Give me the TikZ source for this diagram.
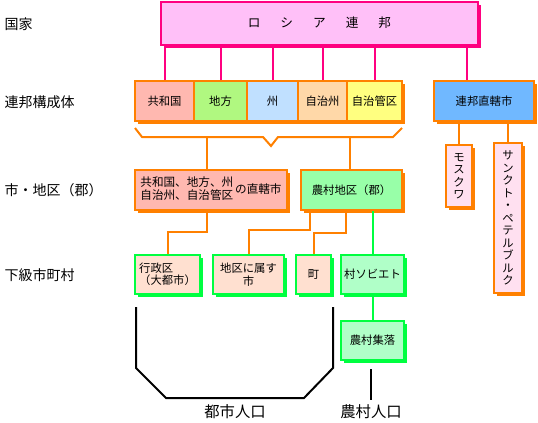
\documentclass[tikz,border=0pt]{standalone}
\usepackage{fontspec}
\setmainfont{Noto Sans CJK JP}
\usetikzlibrary{shadows}

\begin{document}
\begin{tikzpicture}[x=0.75pt, y=-0.75pt]
    % Define colours
    \definecolor{pinkLine}{HTML}{FF0080}
    \definecolor{orangeLine}{HTML}{FF8000}
    \definecolor{greenLine}{HTML}{00FF40}
    \definecolor{rfFill}{HTML}{FFC0F8}
    \definecolor{kyowaFill}{HTML}{FFB8B0}
    \definecolor{chihoFill}{HTML}{B0F880}
    \definecolor{shuFill}{HTML}{C0E0FF}
    \definecolor{jichishuFill}{HTML}{FFD8A8}
    \definecolor{jichikuFill}{HTML}{FFFF80}
    \definecolor{fedFill}{HTML}{70B8FF}
    \definecolor{cityFill}{HTML}{FFE0F0}
    \definecolor{nosonFill}{HTML}{98FFA8}
    \definecolor{lowFill}{HTML}{FFE0D0}
    \definecolor{sonFill}{HTML}{B0FFC8}

    % Define pixel unit
    \def\u{0.75pt}

    \tikzset{
        box/.style={draw, line width=2*\u, inner sep=1pt, align=center,
            font=\fontsize{8.5}{9.4}\selectfont},
        pbox/.style={box, draw=pinkLine,
            drop shadow={shadow xshift=3*\u, shadow yshift=-3*\u, fill=pinkLine, opacity=1}},
        obox/.style={box, draw=orangeLine,
            drop shadow={shadow xshift=3*\u, shadow yshift=-3*\u, fill=orangeLine, opacity=1}},
        gbox/.style={box, draw=greenLine,
            drop shadow={shadow xshift=3*\u, shadow yshift=-3*\u, fill=greenLine, opacity=1}},
        level/.style={anchor=west, font=\fontsize{10.5}{12}\selectfont},
        pop/.style={font=\fontsize{11.5}{13}\selectfont},
        pinkLink/.style={draw=pinkLine, line width=2*\u},
        orangeLink/.style={draw=orangeLine, line width=2*\u},
        greenLink/.style={draw=greenLine, line width=2*\u},
        blackLink/.style={draw=black, line width=2*\u}
    }

    \useasboundingbox (0,0) rectangle (538,422);

    % Level labels
    \node[level] (lvlState) at (0,24) {国家};
    \node[level] (lvlSubject) at (0,102) {連邦構成体};
    \node[level] (lvlDistrict) at (0,190) {市・地区（郡）};
    \node[level] (lvlLocal) at (0,275) {下級市町村};

    % Russian Federation
    \node[pbox, fill=rfFill, minimum width=317*\u, minimum height=43*\u,
        font=\fontsize{9.5}{11}\selectfont] (rf) at (319.5,23)
        {ロ\hspace{15pt}シ\hspace{15pt}ア\hspace{15pt}連\hspace{15pt}邦};

    % Federal subjects
    \node[obox, fill=kyowaFill, minimum width=59*\u, minimum height=40*\u] (kyowa) at (164.5,101) {共和国};
    \node[obox, fill=chihoFill, minimum width=53*\u, minimum height=40*\u] (chiho) at (220.5,101) {地方};
    \node[obox, fill=shuFill, minimum width=51*\u, minimum height=40*\u] (shu) at (272.5,101) {州};
    \node[obox, fill=jichishuFill, minimum width=49*\u, minimum height=40*\u] (jichishu) at (322.5,101) {自治州};
    \node[obox, fill=jichikuFill, minimum width=55*\u, minimum height=40*\u] (jichiku) at (374.5,101) {自治管区};
    \node[obox, fill=fedFill, minimum width=100*\u, minimum height=40*\u] (fed) at (484,101) {連邦直轄市};

    % Federal cities
    \node[obox, fill=cityFill, minimum width=26*\u, minimum height=62*\u] (mosc) at (459,176) {モ\\ス\\ク\\ワ};
    \node[obox, fill=cityFill, minimum width=28*\u, minimum height=150*\u] (spb) at (508,218)
        {サ\\ン\\ク\\ト\\・\\ペ\\テ\\ル\\ブ\\ル\\ク};

    % Cities and districts
    \node[obox, fill=kyowaFill, minimum width=152*\u, minimum height=40*\u,
        font=\fontsize{8.7}{9}\selectfont] (direct) at (211,190)
        {\begin{tabular}{@{}l@{}}共和国、地方、州\\自治州、自治管区\end{tabular}\,の直轄市};
    \node[obox, fill=nosonFill, minimum width=101*\u, minimum height=40*\u] (rural) at (351.5,190) {農村地区（郡）};

    % Lower municipalities
    \node[gbox, fill=lowFill, minimum width=65*\u, minimum height=39*\u, align=left] (gyosei) at (167.5,274.5) {行政区\\（大都市）};
    \node[gbox, fill=lowFill, minimum width=71*\u, minimum height=39*\u] (chiku) at (248.5,274.5) {地区に属す\\市};
    \node[gbox, fill=lowFill, minimum width=35*\u, minimum height=39*\u] (cho) at (313.5,274.5) {町};
    \node[gbox, fill=sonFill, minimum width=63*\u, minimum height=39*\u] (son) at (372.5,274.5) {村ソビエト};
    \node[gbox, fill=sonFill, minimum width=63*\u, minimum height=39*\u] (shuraku) at (372.5,340.5) {農村集落};

    % Population labels
    \node[pop] (urbanPop) at (235,412) {都市人口};
    \node[pop] (ruralPop) at (371,412) {農村人口};

    % Links from the federation
    \foreach \n in {kyowa,chiho,shu,jichishu,jichiku}
        \draw[pinkLink] (\n.north) -- (\n.north |- rf.south);
    \draw[pinkLink] ([xshift=-17*\u]fed.north) -- ([xshift=-17*\u]fed.north |- rf.south);

    % Links to federal cities
    \draw[orangeLink] (mosc.north) -- (mosc.north |- fed.south);
    \draw[orangeLink] (spb.north) -- (spb.north |- fed.south);

    % Brace under federal subjects
    \coordinate (braceL) at (207,137);
    \coordinate (braceR) at (350,137);
    \draw[orangeLink] (135,128) -- (142,137) -- (263,137) -- (271,146) -- (278,137) -- (393,137) -- (402,128);
    \draw[orangeLink] (braceL) -- (braceL |- direct.north);
    \draw[orangeLink] (braceR) -- (braceR |- rural.north);

    % Links to lower municipalities
    \draw[orangeLink] ([xshift=-4*\u]direct.south) -- ++(0,21) -| (gyosei.north);
    \draw[orangeLink] ([xshift=-41.5*\u]rural.south) -- ++(0,19) -| (chiku.north);
    \draw[orangeLink] ([xshift=-5.5*\u]rural.south) -- ++(0,22) -| (cho.north);
    \draw[greenLink] (son.north |- rural.south) -- (son.north);
    \draw[greenLink] (son.south) -- (shuraku.north);

    % Population brackets
    \draw[blackLink] (136,307) -- (136,368) -- (166,398) -- (304,398) -- (333,368) -- (333,307);
    \coordinate (ruralTop) at (371,369);
    \draw[blackLink] (ruralTop) -- (ruralPop.north);

\end{tikzpicture}
\end{document}
